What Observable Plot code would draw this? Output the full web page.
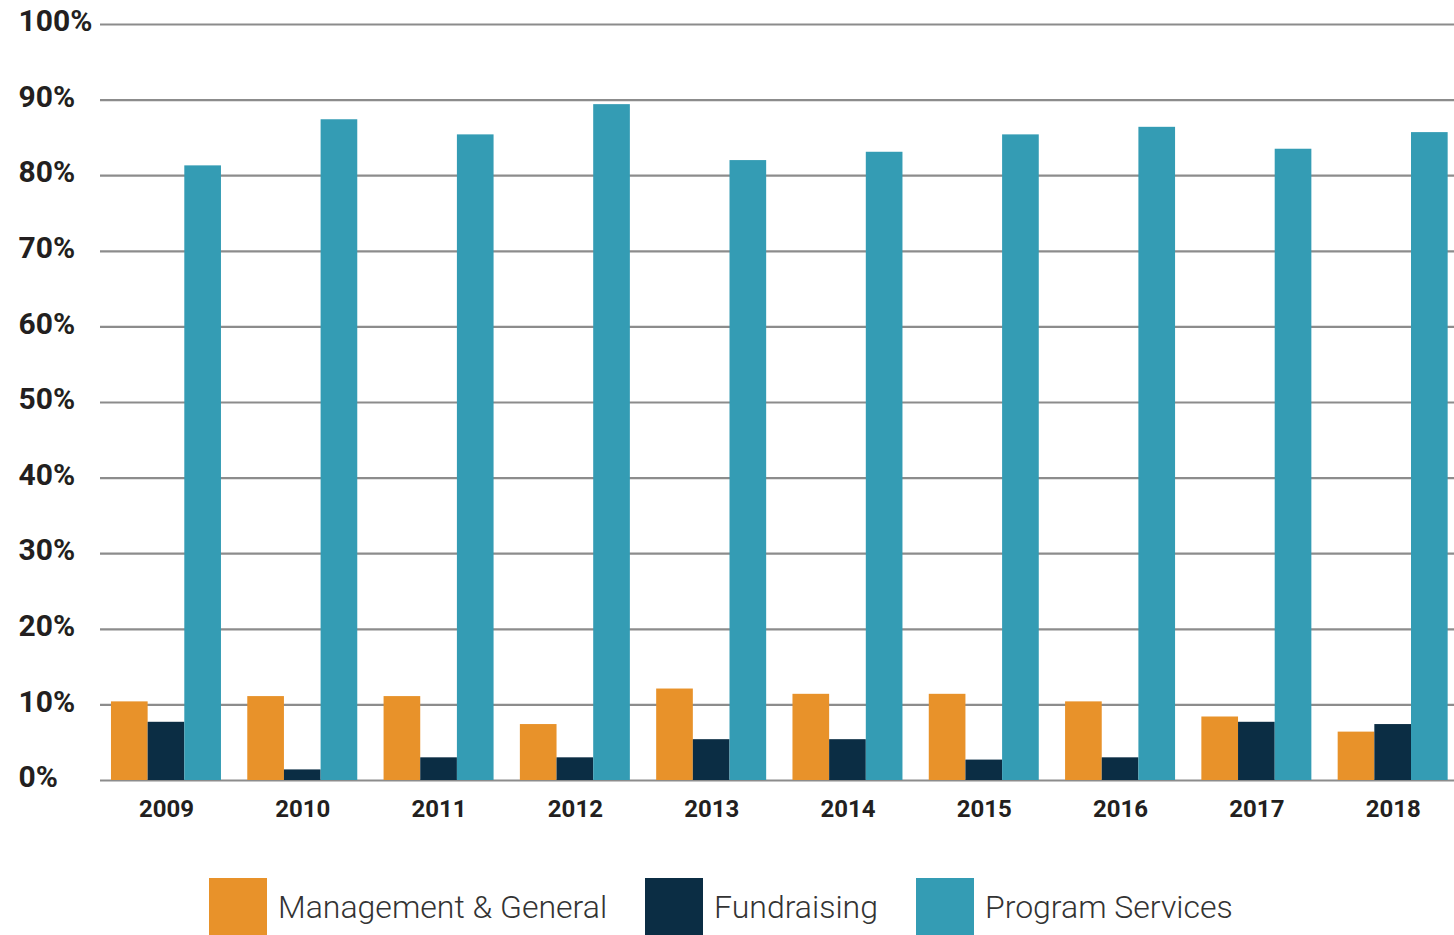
<!DOCTYPE html>
<html>
<head>
<meta charset="utf-8">
<script src="https://cdn.jsdelivr.net/npm/d3@7"></script>
<script src="https://cdn.jsdelivr.net/npm/@observablehq/plot@0.6"></script>
<style>
  html, body { margin: 0; padding: 0; background: #fff; }
  #chart svg { display: block; }
  #legend { display: flex; align-items: center; margin-top: 38px; padding-left: 209px; font-family: Roboto, sans-serif; }
  .item { display: flex; align-items: center; margin-right: 38px; }
  .sw { width: 58px; height: 57px; margin-right: 11px; }
  .lab { font-size: 32px; font-weight: 300; color: #333; }
</style>
</head>
<body>
<div id="chart"></div>
<div id="legend"></div>
<script>
const years = [2009, 2010, 2011, 2012, 2013, 2014, 2015, 2016, 2017, 2018];
const management = [10.4, 11.1, 11.1, 7.4, 12.1, 11.4, 11.4, 10.4, 8.4, 6.4];
const fundraising = [7.7, 1.4, 3.0, 3.0, 5.4, 5.4, 2.7, 3.0, 7.7, 7.4];
const programServices = [81.3, 87.4, 85.4, 89.4, 82.0, 83.1, 85.4, 86.4, 83.5, 85.7];
const seriesNames = ["Management & General", "Fundraising", "Program Services"];
const seriesColors = ["#E8922A", "#0B2D44", "#349CB4"];
const yTicks = [0, 10, 20, 30, 40, 50, 60, 70, 80, 90, 100];

const seriesValues = [management, fundraising, programServices];
const barW = 0.269; // fraction of a year step per bar
const rows = [];
years.forEach((yr, i) => {
  seriesValues.forEach((vals, s) => {
    const x1 = i + (s - 1.5) * barW;
    rows.push({year: yr, series: seriesNames[s], value: vals[i], x1, x2: x1 + barW});
  });
});

const chart = Plot.plot({
  width: 1454,
  height: 840,
  marginTop: 24,
  marginBottom: 60,
  marginLeft: 100,
  marginRight: 0,
  style: {fontFamily: "Roboto, sans-serif", background: "#fff"},
  x: {type: "linear", domain: [-0.484, 9.45], axis: null},
  y: {domain: [0, 100], axis: null},
  color: {domain: seriesNames, range: seriesColors},
  marks: [
    Plot.ruleY(yTicks, {stroke: "#8c8c8c", strokeWidth: 2.2}),
    Plot.rectY(rows, {x1: "x1", x2: "x2", y: "value", fill: "series"}),
    Plot.text(yTicks, {y: d => d, text: d => d + "%", frameAnchor: "left", dx: -82, dy: -3, textAnchor: "start",
      fontSize: 30, fontWeight: "bold", fill: "#231f20"}),
    Plot.text(years, {x: (d, i) => i, text: d => String(d), frameAnchor: "bottom", dy: 36,
      fontSize: 24, fontWeight: "bold", fill: "#231f20"})
  ]
});
document.getElementById("chart").appendChild(chart);

const legend = document.getElementById("legend");
seriesNames.forEach((name, i) => {
  const item = document.createElement("div");
  item.className = "item";
  const sw = document.createElement("div");
  sw.className = "sw";
  sw.style.background = seriesColors[i];
  const lab = document.createElement("span");
  lab.className = "lab";
  lab.textContent = name;
  item.appendChild(sw);
  item.appendChild(lab);
  legend.appendChild(item);
});
</script>
</body>
</html>
